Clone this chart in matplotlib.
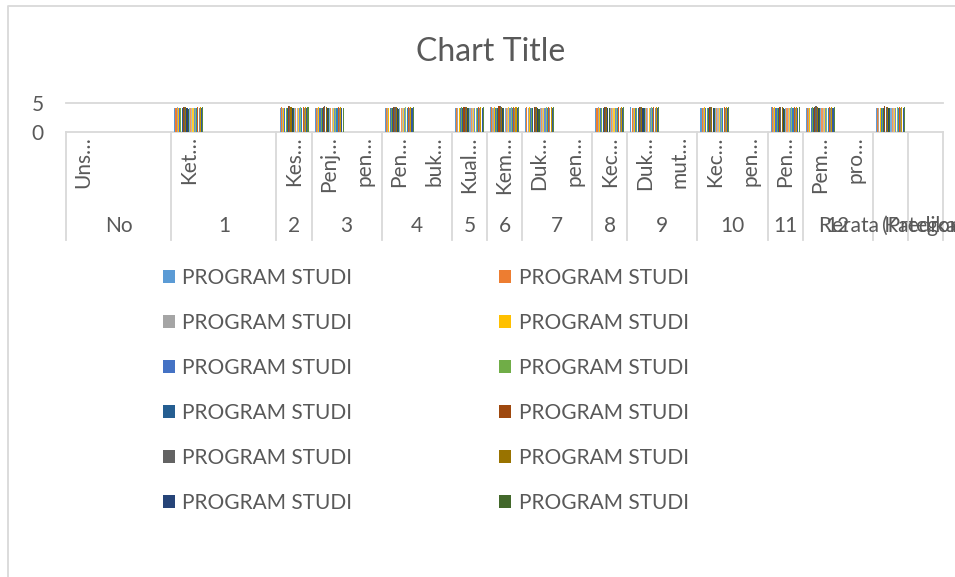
import numpy as np
import matplotlib.pyplot as plt
from matplotlib.lines import Line2D
import matplotlib.transforms as mtransforms

plt.rcParams['font.family'] = ['Lato', 'DejaVu Sans']

# inner (category) labels, 25 slots on the axis
inner_labels = ["Uns…", "", "", "Ket…", "", "", "Kes…", "Penj…", "pen…", "Pen…",
                "buk…", "Kual…", "Kem…", "Duk…", "pen…", "Kec…", "Duk…", "mut…",
                "Kec…", "pen…", "Pen…", "Pem…", "pro…", "", ""]
# outer (group) labels and how many inner slots each covers
group_labels = ["No", "1", "2", "3", "4", "5", "6", "7", "8", "9", "10", "11", "12",
                "Rerata Kategori", "(Predikat)"]
group_sizes = [3, 3, 1, 2, 2, 1, 1, 2, 1, 2, 2, 1, 2, 1, 1]

# slots that carry bars
bar_slots = [3, 6, 7, 9, 11, 12, 13, 15, 16, 18, 20, 21, 23]

series_names = ["PROGRAM STUDI"] * 24
series_colors = ["#5B9BD5", "#ED7D31", "#A5A5A5", "#FFC000", "#4472C4", "#70AD47",
                 "#255E91", "#9E480E", "#636363", "#997300", "#264478", "#43682B",
                 "#7CAFDD", "#F1975A", "#B7B7B7", "#FFCD33", "#698ED0", "#8CC168",
                 "#327DC2", "#D26012", "#848484", "#CC9A00", "#335AA1", "#5A8A39"]

series_values = [
    [4.22, 4.20, 4.18, 4.15, 4.20, 4.24, 4.21, 4.19, 4.26, 4.17, 4.23, 4.20, 4.21],
    [4.18, 4.28, 4.12, 4.10, 4.16, 4.28, 4.25, 4.14, 4.22, 4.13, 4.31, 4.15, 4.20],
    [4.25, 4.15, 4.20, 4.18, 4.22, 4.19, 4.17, 4.24, 4.20, 4.21, 4.18, 4.22, 4.19],
    [4.20, 4.22, 4.25, 4.21, 4.18, 4.26, 4.23, 4.20, 4.17, 4.24, 4.25, 4.18, 4.22],
    [4.15, 4.12, 4.10, 4.14, 4.13, 4.16, 4.11, 4.15, 4.18, 4.12, 4.14, 4.13, 4.15],
    [4.21, 4.18, 4.16, 4.20, 4.24, 4.17, 4.22, 4.19, 4.21, 4.18, 4.20, 4.23, 4.18],
    [4.10, 4.14, 4.08, 4.12, 4.10, 4.15, 4.13, 4.09, 4.16, 4.11, 4.12, 4.10, 4.13],
    [4.35, 4.40, 4.33, 4.30, 4.36, 4.42, 4.38, 4.34, 4.37, 4.35, 4.39, 4.33, 4.45],
    [4.28, 4.45, 4.40, 4.25, 4.30, 4.48, 4.35, 4.32, 4.30, 4.38, 4.36, 4.40, 4.38],
    [4.30, 4.32, 4.28, 4.26, 4.31, 4.34, 4.30, 4.29, 4.27, 4.33, 4.30, 4.31, 4.29],
    [4.12, 4.10, 4.15, 4.11, 4.09, 4.14, 4.12, 4.16, 4.10, 4.13, 4.11, 4.14, 4.10],
    [4.05, 4.08, 4.06, 4.04, 4.07, 4.09, 4.05, 4.08, 4.06, 4.07, 4.05, 4.06, 4.08],
    [4.10, 4.12, 4.09, 4.11, 4.13, 4.10, 4.12, 4.14, 4.11, 4.09, 4.12, 4.10, 4.11],
    [4.08, 4.11, 4.07, 4.09, 4.10, 4.12, 4.08, 4.10, 4.09, 4.11, 4.08, 4.09, 4.10],
    [4.14, 4.16, 4.12, 4.13, 4.15, 4.17, 4.14, 4.16, 4.13, 4.15, 4.14, 4.16, 4.12],
    [4.20, 4.22, 4.18, 4.19, 4.21, 4.23, 4.20, 4.22, 4.19, 4.21, 4.20, 4.22, 4.18],
    [4.12, 4.14, 4.11, 4.13, 4.12, 4.15, 4.13, 4.11, 4.14, 4.12, 4.13, 4.11, 4.14],
    [4.22, 4.25, 4.20, 4.23, 4.21, 4.26, 4.24, 4.22, 4.25, 4.21, 4.24, 4.22, 4.23],
    [4.15, 4.18, 4.14, 4.16, 4.17, 4.19, 4.15, 4.18, 4.16, 4.17, 4.15, 4.16, 4.18],
    [4.30, 4.33, 4.28, 4.31, 4.29, 4.35, 4.32, 4.30, 4.33, 4.29, 4.36, 4.31, 4.30],
    [4.18, 4.20, 4.16, 4.19, 4.17, 4.21, 4.18, 4.20, 4.17, 4.19, 4.18, 4.20, 4.17],
    [4.28, 4.30, 4.26, 4.29, 4.27, 4.31, 4.28, 4.30, 4.27, 4.29, 4.28, 4.30, 4.27],
    [4.16, 4.18, 4.14, 4.17, 4.15, 4.19, 4.16, 4.18, 4.15, 4.17, 4.16, 4.18, 4.15],
    [4.24, 4.26, 4.22, 4.25, 4.23, 4.27, 4.24, 4.26, 4.23, 4.25, 4.24, 4.26, 4.23],
]

txt = '#595959'
grid = '#D9D9D9'
W, H = 955, 577

fig = plt.figure(figsize=(9.55, 5.77), dpi=100)
ax = fig.add_axes([66 / W, 1 - 132 / H, (943 - 66) / W, 29 / H])

n = len(series_values)
cluster = 0.83
bw = cluster / n
xs = np.array(bar_slots, dtype=float)
bars = []
for k, vals in enumerate(series_values):
    off = -cluster / 2 + bw * (k + 0.5)
    b = ax.bar(xs + off, vals, width=bw * 0.9, color=series_colors[k], linewidth=0,
               label=series_names[k], zorder=3)
    bars.append(b)

ax.set_xlim(-0.5, len(inner_labels) - 0.5)
ax.set_ylim(0, 5)
ax.set_yticks([0, 5])
ax.set_xticks([])
ax.tick_params(axis='y', length=0, pad=16, labelsize=15, labelcolor=txt)
for s in ax.spines.values():
    s.set_visible(False)
ax.axhline(5, color=grid, lw=1.3, zorder=1, clip_on=False)
ax.axhline(0, color=grid, lw=1.3, zorder=1, clip_on=False)

# inner category labels, rotated
for i, lab in enumerate(inner_labels):
    if lab:
        ax.annotate(lab, xy=(i, 0), xytext=(0, -3), textcoords='offset points',
                    rotation=90, ha='center', va='top', fontsize=15, color=txt,
                    annotation_clip=False)

# group labels and dividers
trans = mtransforms.blended_transform_factory(ax.transData, ax.transAxes)
bottom = -108 / 29
edges = np.concatenate([[0], np.cumsum(group_sizes)]) - 0.5
for e in edges:
    ax.plot([e, e], [0, bottom], color=grid, lw=1.3, transform=trans, clip_on=False)
for lab, a, b in zip(group_labels, edges[:-1], edges[1:]):
    ax.annotate(lab, xy=((a + b) / 2, 0), xytext=(0, -94 * 0.72),
                textcoords='offset points', ha='center', va='center',
                fontsize=15, color=txt, annotation_clip=False)

fig.text(491 / W, 1 - 52 / H, "Chart Title", ha='center', va='center',
         fontsize=23, color=txt)

# chart border (cropped on right and bottom)
fig.add_artist(Line2D([8 / W, 8 / W, 1.0], [0, 1 - 6 / H, 1 - 6 / H],
                      color=grid, lw=1.3, transform=fig.transFigure))

handles = bars[0:12:2] + bars[1:12:2]
names = series_names[0:12:2] + series_names[1:12:2]
fig.legend(handles, names, ncol=2, loc='upper left',
           bbox_to_anchor=(163 / W, 1 - 268 / H), frameon=False, fontsize=15,
           labelcolor=txt, borderpad=0, borderaxespad=0,
           handlelength=0.58, handleheight=0.58, handletextpad=0.35,
           columnspacing=7.05, labelspacing=1.2)

fig.savefig('out.png', dpi=100)
